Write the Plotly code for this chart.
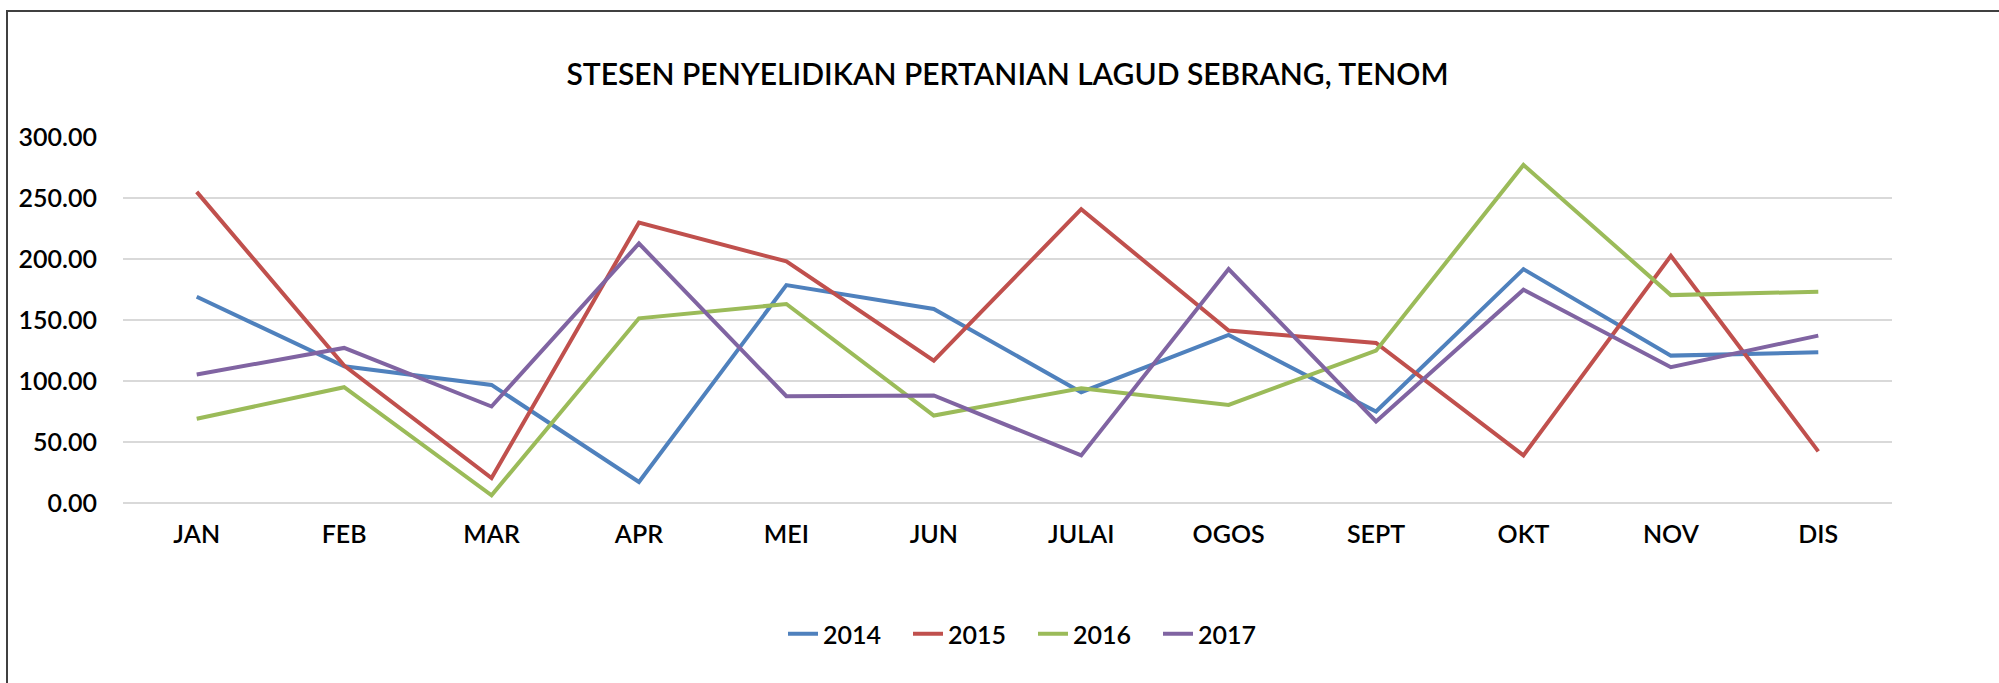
import plotly.graph_objects as go

months = ["JAN", "FEB", "MAR", "APR", "MEI", "JUN", "JULAI", "OGOS", "SEPT", "OKT", "NOV", "DIS"]
y2014 = [169.1, 112.1, 96.8, 17.2, 178.6, 159.0, 90.8, 137.7, 75.0, 191.7, 120.8, 123.5]
y2015 = [255.0, 112.6, 20.5, 229.9, 198.0, 116.7, 240.8, 141.3, 131.2, 39.0, 202.6, 42.3]
y2016 = [69.0, 94.9, 6.3, 151.4, 163.1, 71.7, 94.1, 80.4, 124.9, 277.1, 170.4, 173.2]
y2017 = [105.3, 127.1, 79.1, 212.7, 87.5, 88.1, 39.0, 191.7, 66.8, 174.8, 111.3, 137.2]
years = ["2014", "2015", "2016", "2017"]
colors = ["#4F81BD", "#C0504D", "#9BBB59", "#8064A2"]
series = [y2014, y2015, y2016, y2017]

FONT = "Lato"
W, H = 1999, 683
L, R, T, B = 123, 1892, 137, 503

fig = go.Figure()
for name, vals, col in zip(years, series, colors):
    fig.add_trace(go.Scatter(x=months, y=vals, name=name, mode="lines",
                             line=dict(color=col, width=4), hoverinfo="skip"))

pw, ph = R - L, B - T
def px(x):
    return (x - L) / pw
def py(y):
    return (B - y) / ph

fig.update_layout(
    width=W, height=H,
    margin=dict(l=L, r=W - R, t=T, b=H - B, pad=0),
    paper_bgcolor="white", plot_bgcolor="white",
    font=dict(family=FONT, color="black", size=25, weight=600),
    title=dict(text="STESEN PENYELIDIKAN PERTANIAN LAGUD SEBRANG, TENOM",
               x=0.5, xref="paper", xanchor="center",
               y=1 - 74 / H, yref="container", yanchor="middle",
               font=dict(family=FONT, size=30, color="black", weight=600)),
    xaxis=dict(range=[-0.5, 11.5], showgrid=False, showline=False, zeroline=False,
               ticks="", tickfont=dict(size=25, weight=600), ticklabelstandoff=14),
    yaxis=dict(range=[0, 300], tickvals=[0, 50, 100, 150, 200, 250, 300],
               tickformat=".2f", showgrid=True, gridcolor="#D9D9D9", gridwidth=1.5,
               zeroline=True, zerolinecolor="#D9D9D9", zerolinewidth=1.5,
               showline=False, ticks="", tickfont=dict(size=25, weight=600),
               ticklabelstandoff=25),
    legend=dict(orientation="h", x=px(1033), xanchor="center", xref="paper",
                y=py(634), yanchor="middle", yref="paper",
                font=dict(size=25, weight=600), entrywidth=80, entrywidthmode="pixels",
                bgcolor="rgba(0,0,0,0)"),
    showlegend=True,
    hovermode=False,
)

fig.add_shape(type="rect", xref="paper", yref="paper",
              x0=px(7), x1=px(2010), y0=py(700), y1=py(11),
              line=dict(color="#404040", width=2), fillcolor="rgba(0,0,0,0)",
              layer="below")

fig.write_html("out.html", config={"displayModeBar": False},
               post_script="document.body.style.margin='0';document.body.style.overflow='hidden';")
